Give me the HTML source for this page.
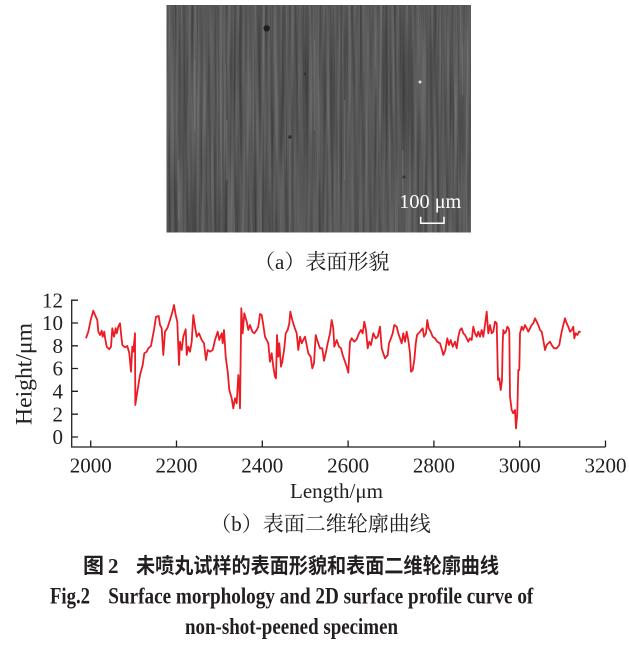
<!DOCTYPE html>
<html><head><meta charset="utf-8"><style>
html,body{margin:0;padding:0;background:#fff;}
svg{display:block;}
</style></head><body>
<svg width="629" height="645" viewBox="0 0 629 645" xmlns="http://www.w3.org/2000/svg">
<defs>
<filter id="sem" x="0" y="0" width="100%" height="100%" filterUnits="objectBoundingBox" color-interpolation-filters="sRGB">
<feTurbulence type="fractalNoise" baseFrequency="0.35 0.006" numOctaves="3" seed="7" result="n"/>
<feColorMatrix in="n" type="matrix" values="0.30 0 0 0 0.19  0.30 0 0 0 0.19  0.30 0 0 0 0.19  0 0 0 0 1"/>
</filter>
</defs>
<rect width="629" height="645" fill="#fff"/>
<!-- SEM image -->
<g>
<rect x="166.5" y="5" width="304.5" height="227.5" fill="#575757"/>
<rect x="166.5" y="5" width="304.5" height="227.5" filter="url(#sem)"/>
<g fill="#7a7a7a" opacity="0.5">
<rect x="194" y="60" width="1.5" height="70"/><rect x="226" y="120" width="1.5" height="60"/>
<rect x="314" y="40" width="1.2" height="90"/><rect x="402" y="150" width="1.5" height="50"/>
<rect x="462" y="45" width="1.2" height="50"/><rect x="178" y="160" width="1.2" height="60"/>
<rect x="344" y="100" width="1.2" height="80"/>
</g>
<circle cx="266.7" cy="28.3" r="3.2" fill="#1e1e1e"/>
<circle cx="290" cy="137" r="1.8" fill="#2e2e2e"/>
<circle cx="305" cy="74" r="1.5" fill="#333"/>
<circle cx="420" cy="82" r="1.5" fill="#ddd"/>
<circle cx="404" cy="177" r="1.5" fill="#333"/>
<text x="399.3" y="208" font-family="'Liberation Serif',serif" font-size="20" fill="#fff" textLength="62" lengthAdjust="spacingAndGlyphs">100 μm</text>
<path d="M420.7 216.7 V223.3 H444 V216.7" stroke="#fff" stroke-width="1.5" fill="none"/>
</g>
<!-- caption a -->
<text x="321.7" y="269" text-anchor="middle" font-family="'Liberation Serif','Noto Serif CJK SC',serif" font-size="21" fill="#231f20">（a）表面形貌</text>

<!-- chart axes -->
<g stroke="#231f20" stroke-width="1.3" fill="none">
<path d="M71.7 299.5 V447 H605.5"/>
<path d="M71.7 300.2 H78 M71.7 323 H78 M71.7 345.8 H78 M71.7 368.5 H78 M71.7 391.3 H78 M71.7 414.2 H78 M71.7 437 H78"/>
<path d="M90.7 447 V440.5 M176.5 447 V440.5 M262.3 447 V440.5 M348.1 447 V440.5 M433.9 447 V440.5 M519.7 447 V440.5 M605.5 447 V440.5"/>
</g>
<g font-family="'Liberation Serif',serif" font-size="21" fill="#231f20">
<g text-anchor="end">
<text x="63" y="307.4">12</text>
<text x="63" y="330.2">10</text>
<text x="63" y="353">8</text>
<text x="63" y="375.7">6</text>
<text x="63" y="398.5">4</text>
<text x="63" y="421.4">2</text>
<text x="63" y="444.2">0</text>
</g>
<g text-anchor="middle">
<text x="90.7" y="472.5">2000</text>
<text x="176.5" y="472.5">2200</text>
<text x="262.3" y="472.5">2400</text>
<text x="348.1" y="472.5">2600</text>
<text x="433.9" y="472.5">2800</text>
<text x="519.7" y="472.5">3000</text>
<text x="605.5" y="472.5">3200</text>
</g>
<text x="290" y="498" font-size="21" textLength="93" lengthAdjust="spacingAndGlyphs">Length/μm</text>
<text transform="translate(31.5,425) rotate(-90)" font-size="23" textLength="102" lengthAdjust="spacingAndGlyphs">Height/μm</text>
</g>

<!-- profile curve -->
<polyline fill="none" stroke="#ec1c24" stroke-width="1.8" stroke-linejoin="round" points="86,338.3 88.3,331.7 90.7,320 93.3,310.7 95,315 97.3,320 98.3,331.7 100,335 101.7,330.7 102.7,336.7 104.3,331.7 105.3,339.3 106.7,346.7 109.3,349.3 111,346.7 112.3,328.3 114,336.7 115.7,328.3 116.7,333.3 118.3,326.7 120,323.3 121,333.3 122.3,345 125,347.3 127.3,346 129.3,353.3 131,371.7 132.3,346.7 133.3,351.7 135,333.3 135.3,405 137.3,391.7 140,375 142.7,365 144.3,353.3 146.7,351.7 148.3,348.3 151,346 152.7,336.7 154,330 156,316.7 158.7,316 160,325 161.7,328.3 163.3,355 165,331.7 167.3,328.3 170,320 172,313.3 174,305 175.7,315 177.3,321.7 179,365 180,341.7 181.7,350 183.3,336.7 185.7,329.3 186.7,355 188.3,346.7 190,351.7 191.7,341.7 193.3,315 195,326.7 196.7,336.7 199,333.3 201.7,340 204,343.3 206,360 207.7,350 210,351.7 212.7,350 215,340 217.7,331.7 219.3,340 221.7,333.3 222.7,343.3 224,330 225.7,356.7 227.7,371.7 229.3,390 231.7,398.3 233.3,408.3 235,398.3 236.7,403.3 238.3,375 239.3,386.7 240,408.3 241.3,308.3 242.7,333.3 244.3,313.3 246.7,321.7 248.3,330 250,325 252.3,331.7 254.3,333.3 256.7,330 258.3,326.7 260,314 261.7,315 263.3,325 265,336.7 266.7,340 268.3,343.3 270,361.7 271.7,353.3 273.3,366.7 275,376.7 276,378.3 277,335 278.3,356.7 279.3,343.3 281,366.7 282.3,361.7 284.3,348.3 285.7,333.3 287.7,330 289.3,323.3 290.3,311.7 292.3,320 294.3,326.7 296.7,333.3 298.3,350 300,336.7 301.7,343.3 303.3,340 305,336.7 306.7,345 308.3,353.3 310.7,356.7 312.3,368.3 314,363.3 315.7,335 317.7,341.7 320,348.3 322.3,348.3 324,360.7 325.7,353.3 327.7,343.3 330,333.3 331.7,320 333.3,328.3 334.3,346.7 336.7,340 339,346.7 341,348.3 342.7,355 345,361.7 346.7,366.7 348.3,372.7 350,341.7 351.7,338.3 354.3,341.7 356.7,339.3 359,333.3 361,330 362.7,333.3 364.3,321.7 366,330 367.7,348.3 369.3,341.7 371,345 373.3,333.3 375.7,338.3 377.7,336.7 380,326.7 381.7,348.3 383.3,353.3 385,358.3 387.7,355 389,343.3 391,338.3 392.7,333.3 394.3,325 396.7,326.7 398.3,333.3 400,338.3 401.7,343.3 403.3,333.3 405,341.7 406.7,331.7 408.3,340 410,353.3 411,371.7 412.7,370 414.3,360 415.7,344 417,335 420,331.7 422.7,328.3 424,336.7 426,333.3 427.3,320 428.7,328.3 430.7,331.7 432.7,336.7 435,338.3 437.3,341.7 440,343.3 442,350 443.3,355 445.3,350 447.3,338.3 449,345 450.7,340 452.7,346.7 455,341.7 456.7,348.3 458.3,336.7 460,330 461.7,328.3 463.3,333.3 465,335 466.7,338.3 468.3,341.7 470,338.3 471.7,340 473.3,326.7 475,333.3 476.7,336.7 478.3,331.7 480,336.7 481.7,330 483.3,336.7 485,325 486.7,311.7 488.3,333.3 490,325 491.7,333.3 493.3,331.7 495,321.7 496.7,323.3 497.3,350 498,380 499.3,378.3 500.7,390 502,380 502.7,343.3 503.3,330 504.7,333.3 506,331.7 507.3,326.7 508.7,328.3 509.3,331.7 510,396.7 511.7,410 513.3,413.3 515,410 516,428.3 517.3,413.3 518.3,370 519.3,370 520,333.3 521.7,326.7 523.3,330 525,325 526.7,328.3 528.3,331.7 530,328.3 531.7,325 533.3,323.3 535,318.3 536.7,321.7 538.3,325 540,330 541.7,331.7 543.3,340 545,350 546.7,345 548.3,343.3 550,341.7 551.7,345 554,348.3 556.7,348.3 559.3,345 560.7,336.7 561.7,331.7 563.3,325 565,318.3 566.7,323.3 568.3,326.7 570,331.7 571.7,330 573.3,326.7 574.3,338.3 575.7,333.3 577.3,335 579,331.7 580.7,331.7"/>

<!-- caption b -->
<text x="320.5" y="531" text-anchor="middle" font-family="'Liberation Serif','Noto Serif CJK SC',serif" font-size="21" fill="#231f20">（b）表面二维轮廓曲线</text>

<!-- figure title -->
<g fill="#231f20">
<text x="83" y="573" font-family="'Noto Sans CJK SC',sans-serif" font-weight="bold" font-size="21">图</text>
<text x="108" y="573" font-family="'Liberation Serif',serif" font-weight="bold" font-size="21">2</text>
<text x="136" y="573" font-family="'Noto Sans CJK SC',sans-serif" font-weight="bold" font-size="21" textLength="363" lengthAdjust="spacingAndGlyphs">未喷丸试样的表面形貌和表面二维轮廓曲线</text>
<g font-family="'Liberation Serif',serif" font-weight="bold" font-size="23">
<text x="50" y="603.3" textLength="40" lengthAdjust="spacingAndGlyphs">Fig.2</text>
<text x="108.3" y="603.3" textLength="425" lengthAdjust="spacingAndGlyphs">Surface morphology and 2D surface profile curve of</text>
<text x="185" y="634" textLength="213" lengthAdjust="spacingAndGlyphs">non-shot-peened specimen</text>
</g>
</g>
</svg>
</body></html>
